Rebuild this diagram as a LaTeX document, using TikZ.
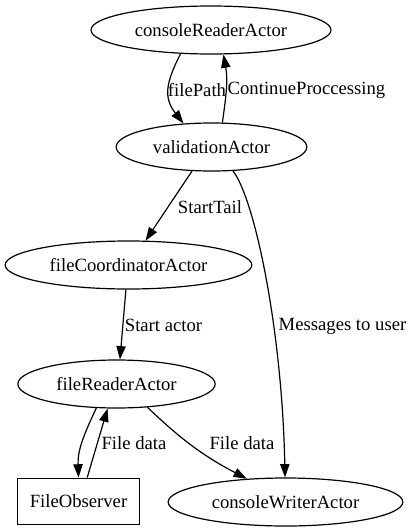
\documentclass[tikz,border=0pt]{standalone}
\usepackage{fontspec}
\setmainfont{Liberation Serif}
\usetikzlibrary{arrows.meta, positioning, shapes.geometric}

\begin{document}
\begin{tikzpicture}[x=0.75pt, y=0.75pt, line width=0.9pt,
    font=\fontsize{14pt}{16pt}\selectfont,
    actor/.style={ellipse, draw, inner sep=0pt, minimum height=36pt},
    obsbox/.style={rectangle, draw, inner sep=0pt, minimum height=35pt},
    msg/.style={-{Triangle[length=10pt, width=7pt]}},
    lbl/.style={inner sep=0pt}]
          \useasboundingbox (0,0) rectangle (412,-532);

          \node[actor, minimum width=180pt] (reader) at (211,-30) {consoleReaderActor};
          \node[actor, minimum width=143pt] (validation) at (211.5,-147) {validationActor};
          \node[actor, minimum width=185pt] (coordinator) at (128.5,-265) {fileCoordinatorActor};
          \node[actor, minimum width=148pt] (filereader) at (116.5,-384) {fileReaderActor};
          \node[obsbox, minimum width=91pt] (observer) at (78.5,-501.5) {FileObserver};
          \node[actor, minimum width=176pt] (writer) at (285.5,-502) {consoleWriterActor};

          \draw[msg] (reader.218) to[out=243, in=128, looseness=1.2] (validation.140);
          \draw[msg] (validation.66) to[out=82, in=-80] (reader.297);
          \draw[msg] (validation.231) -- (coordinator.55);
          \draw[msg] (validation.-48) .. controls (255,-200) and (282,-330) .. (writer.91);
          \draw[msg] (coordinator.264) -- (filereader.82);
          \draw[msg] (filereader.230) to[out=245, in=92] (observer.north);
          \draw[msg] (observer.70) -- (filereader.250);
          \draw[msg] (filereader.-37) to[bend right=8] (writer.149);

          \node[lbl] (pathlbl) at (197,-90) {filePath};
          \node[lbl] (contlbl) at (306.5,-90) {ContinueProccessing};
          \node[lbl] (taillbl) at (210,-207) {StartTail};
          \node[lbl] (startlbl) at (163.5,-325) {Start actor};
          \node[lbl] (userlbl) at (342.5,-326) {Messages to user};
          \node[lbl] (datalbl) at (134,-443) {File data};
          \node[lbl] (writelbl) at (242,-443) {File data};
        \end{tikzpicture}
\end{document}
